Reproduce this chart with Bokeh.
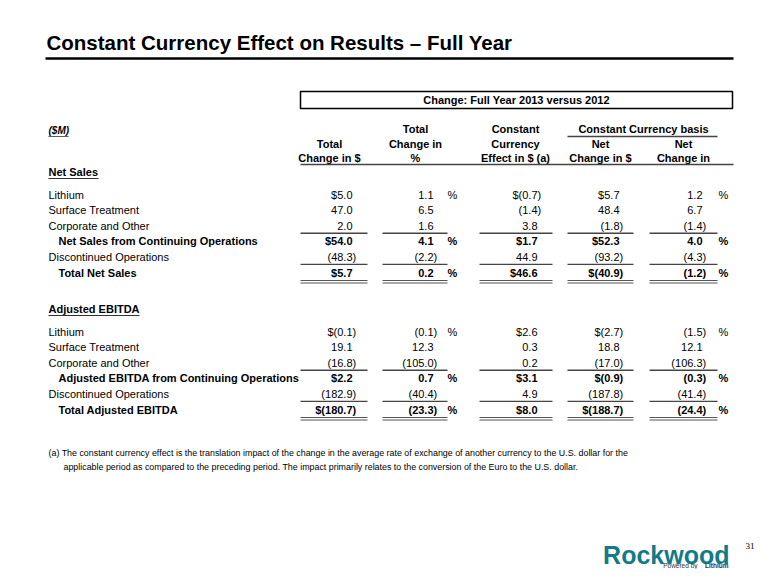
from bokeh.plotting import figure
from bokeh.models import Range1d
from bokeh.core.properties import value
from bokeh.embed import file_html
from bokeh.resources import INLINE

# ---------------- data ----------------
title = "Constant Currency Effect on Results \u2013 Full Year"
box_title = "Change: Full Year 2013 versus 2012"
unit_label = "($M)"

section_titles = ["Net Sales", "Adjusted EBITDA"]
ns_rows = ["Lithium", "Surface Treatment", "Corporate and Other",
           "Net Sales from Continuing Operations", "Discontinued Operations",
           "Total Net Sales"]
eb_rows = ["Lithium", "Surface Treatment", "Corporate and Other",
           "Adjusted EBITDA from Continuing Operations", "Discontinued Operations",
           "Total Adjusted EBITDA"]

ns_total_change = [5.0, 47.0, 2.0, 54.0, -48.3, 5.7]
ns_total_pct = [1.1, 6.5, 1.6, 4.1, -2.2, 0.2]
ns_cc_effect = [-0.7, -1.4, 3.8, 1.7, 44.9, 46.6]
ns_net_change = [5.7, 48.4, -1.8, 52.3, -93.2, -40.9]
ns_net_pct = [1.2, 6.7, -1.4, 4.0, -4.3, -1.2]

eb_total_change = [-0.1, 19.1, -16.8, 2.2, -182.9, -180.7]
eb_total_pct = [-0.1, 12.3, -105.0, 0.7, -40.4, -23.3]
eb_cc_effect = [2.6, 0.3, 0.2, 3.1, 4.9, 8.0]
eb_net_change = [-2.7, 18.8, -17.0, -0.9, -187.8, -188.7]
eb_net_pct = [-1.5, 12.1, -106.3, -0.3, -41.4, -24.4]

col_headers = [["Total", "Change in $"],
               ["Total", "Change in", "%"],
               ["Constant", "Currency", "Effect in $ (a)"],
               ["Net", "Change in $"],
               ["Net", "Change in"]]
group_header = "Constant Currency basis"
footnote = ["(a) The constant currency effect is the translation impact of the change in the average rate of exchange of another currency to the U.S. dollar for the",
            "applicable period as compared to the preceding period. The impact primarily relates to the conversion of the Euro to the U.S. dollar."]
logo_name = "Rockwood"
logo_tag = ["Powered by", "Lithium"]
page_no = "31"

# ---------------- layout ----------------
FONT = value("Liberation Sans")
col_kind = ["$", "%", "$", "$", "%"]
col_digit_right = [352, 433, 537, 619, 702]
col_line = [(300, 367), (382, 447), (479, 552), (567, 633), (649, 717)]
col_center = [329, 415, 515, 600, 683]
pct_x = {1: 452, 4: 723}
bold_rows = {3, 5}
marked_rows = {0, 3, 5}
paren_w = 3.7
row_step = 15.6

p = figure(width=764, height=569, x_range=Range1d(0, 764), y_range=Range1d(569, 0),
           output_backend="svg", toolbar_location=None, min_border=0)
p.axis.visible = False
p.grid.visible = False
p.outline_line_color = None
p.background_fill_color = "white"


def txt(x, y, t, size="11px", style="normal", align="left", color="black", font=FONT):
    p.text(x=[x], y=[y], text=[t], text_font=font, text_font_size=size,
           text_font_style=style, text_align=align, text_baseline="middle",
           text_color=color)


def seg(x0, y0, x1, y1, color="#333333", width=1.0):
    p.segment(x0=[x0], y0=[y0], x1=[x1], y1=[y1], line_color=color, line_width=width)


def fmt(v, dollar):
    s = f"{abs(v):.1f}"
    if v < 0:
        s = f"({s})"
    return ("$" + s) if dollar else s


# title
txt(46, 42, title, size="20.5px", style="bold")
seg(45, 58, 733, 58, color="black", width=2.5)

# box
p.quad(left=[300], right=[732], top=[91], bottom=[108], fill_color="white",
       line_color="black", line_width=1.5)
txt(516, 99.5, box_title, size="11px", style="bold", align="center")

# unit label
txt(48, 130, unit_label, size="10px", style="bold italic")
seg(48, 136, 68, 136, color="#333333", width=0.8)

# column headers
header_y = [128, 143, 157]
for ci, lines in enumerate(col_headers):
    ys = header_y[-len(lines):]
    for yy, ln in zip(ys, lines):
        txt(col_center[ci], yy, ln, style="bold", align="center")
txt(643, 128, group_header, style="bold", align="center")
seg(567, 136, 717, 136, color="#444444", width=1.3)
seg(300, 164, 733, 164, color="#444444", width=1.3)


def section(sec_title, title_y, title_w, first_row_y, rows, cols):
    txt(48, title_y, sec_title, style="bold")
    seg(48, title_y + 7, 48 + title_w, title_y + 7, color="#333333", width=1.0)
    for ri, lab in enumerate(rows):
        y = first_row_y + ri * row_step
        bold = ri in bold_rows
        st = "bold" if bold else "normal"
        txt(58 if bold else 48, y, lab, style=st)
        for ci, vals in enumerate(cols):
            v = vals[ri]
            dollar = col_kind[ci] == "$" and ri in marked_rows
            xr = col_digit_right[ci] + (paren_w if v < 0 else 0)
            txt(xr, y, fmt(v, dollar), style=st, align="right")
            if col_kind[ci] == "%" and ri in marked_rows:
                txt(pct_x[ci], y, "%", style=st, align="center")
        if ri in (2, 4):
            for (a, b) in col_line:
                seg(a, y + 7.5, b, y + 7.5, color="#444444", width=1.4)
        if ri == 5:
            for (a, b) in col_line:
                seg(a, y + 8, b, y + 8, color="#555555", width=1.0)
                seg(a, y + 10.5, b, y + 10.5, color="#555555", width=1.0)


ns_cols = [ns_total_change, ns_total_pct, ns_cc_effect, ns_net_change, ns_net_pct]
eb_cols = [eb_total_change, eb_total_pct, eb_cc_effect, eb_net_change, eb_net_pct]
section(section_titles[0], 171, 50, 194, ns_rows, ns_cols)
section(section_titles[1], 308, 91, 331, eb_rows, eb_cols)

# footnote
txt(48, 452, footnote[0], size="8.9px")
txt(63, 466, footnote[1], size="8.9px")

# logo and page number
txt(729, 554, logo_name, size="25px", style="bold", align="right", color="#137a86")
txt(697, 565, logo_tag[0], size="6.5px", align="right", color="#333333")
txt(728, 565, logo_tag[1], size="6.5px", style="bold", align="right", color="#333333")
txt(745, 545, page_no, size="9px", font=value("Liberation Serif"))

open("out.html", "w").write(file_html(p, INLINE))
